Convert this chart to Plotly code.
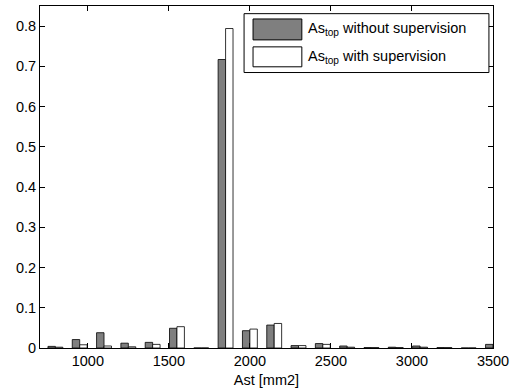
import plotly.graph_objects as go

# Bin centres (Ast [mm2])
ast_bins = [800, 950, 1100, 1250, 1400, 1550, 1700, 1850, 2000, 2150,
            2300, 2450, 2600, 2750, 2900, 3050, 3200, 3350, 3500]
# Relative frequencies
without_supervision = [0.004, 0.021, 0.038, 0.012, 0.014, 0.049, 0.0, 0.717, 0.043, 0.057,
                       0.006, 0.011, 0.005, 0.001, 0.002, 0.005, 0.001, 0.0, 0.009]
with_supervision = [0.002, 0.008, 0.005, 0.003, 0.009, 0.053, 0.0, 0.794, 0.047, 0.061,
                    0.006, 0.009, 0.002, 0.001, 0.001, 0.002, 0.001, 0.0, 0.0]
legend_labels = ["As<sub>top</sub> without supervision", "As<sub>top</sub> with supervision"]
x_ticks = [1000, 1500, 2000, 2500, 3000, 3500]
y_ticks = [0, 0.1, 0.2, 0.3, 0.4, 0.5, 0.6, 0.7, 0.8]

FONT = "Liberation Sans, Arial, Helvetica, sans-serif"
FS = 14.5
DARK = "#7f7f7f"

fig = go.Figure()
fig.add_trace(go.Bar(x=ast_bins, y=without_supervision, name=legend_labels[0],
                     marker=dict(color=DARK, line=dict(color="black", width=0.8))))
fig.add_trace(go.Bar(x=ast_bins, y=with_supervision, name=legend_labels[1],
                     marker=dict(color="white", line=dict(color="black", width=0.8))))

axis_common = dict(showline=True, linecolor="black", linewidth=1, mirror="ticks",
                   ticks="inside", ticklen=5, tickwidth=1, tickcolor="black",
                   showgrid=False, zeroline=False,
                   tickfont=dict(family=FONT, size=FS, color="black"))

fig.update_layout(
    width=514, height=392,
    margin=dict(l=40, r=19, t=5, b=44),
    paper_bgcolor="white", plot_bgcolor="white",
    barmode="group", bargap=0.387, bargroupgap=0,
    showlegend=False,
    font=dict(family=FONT, size=FS, color="black"),
    xaxis=dict(range=[705, 3500], tickvals=x_ticks,
               title=dict(text="Ast [mm2]", font=dict(family=FONT, size=FS, color="black"), standoff=6),
               **axis_common),
    yaxis=dict(range=[0, 0.85], tickvals=y_ticks, **axis_common),
)

# Custom legend box (MATLAB style)
lx0, lx1, ly0, ly1 = 0.4505, 0.991, 0.8055, 0.9776
fig.add_shape(type="rect", xref="paper", yref="paper", x0=lx0, x1=lx1, y0=ly0, y1=ly1,
              line=dict(color="black", width=1), fillcolor="white", layer="above")
patches = [(0.9009, 0.9621, DARK), (0.8222, 0.8805, "white")]
for (py0, py1, col), label in zip(patches, legend_labels):
    fig.add_shape(type="rect", xref="paper", yref="paper", x0=0.4703, x1=0.578, y0=py0, y1=py1,
                  line=dict(color="black", width=1), fillcolor=col, layer="above")
    fig.add_annotation(xref="paper", yref="paper", x=0.5868, y=(py0 + py1) / 2,
                       xanchor="left", yanchor="middle", text=label, showarrow=False,
                       font=dict(family=FONT, size=FS, color="black"))

fig.write_html("out.html")
